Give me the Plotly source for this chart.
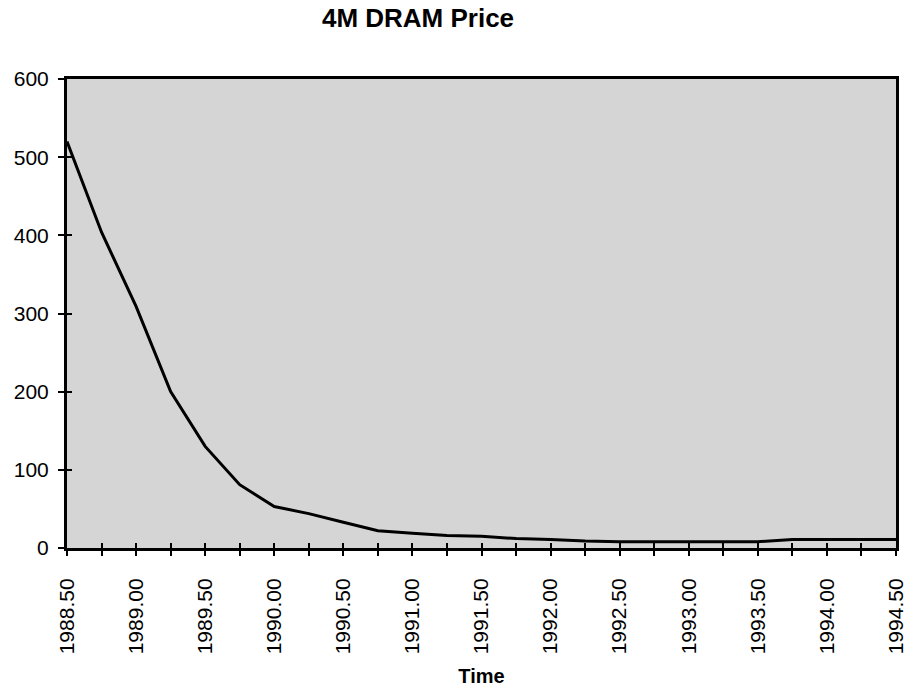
import plotly.graph_objects as go

# Quarterly time points and 4M DRAM price
time = [1988.50, 1988.75, 1989.00, 1989.25, 1989.50, 1989.75, 1990.00, 1990.25,
        1990.50, 1990.75, 1991.00, 1991.25, 1991.50, 1991.75, 1992.00, 1992.25,
        1992.50, 1992.75, 1993.00, 1993.25, 1993.50, 1993.75, 1994.00, 1994.25,
        1994.50]
price = [520, 404, 309, 200, 130, 81, 53, 44,
         33, 22, 19, 16, 15, 12, 11, 9,
         8, 8, 8, 8, 8, 11, 11, 11,
         11]

x_ticks = [1988.5 + 0.5 * i for i in range(13)]
x_tick_text = [f"{v:.2f}" for v in x_ticks]
y_ticks = [0, 100, 200, 300, 400, 500, 600]

FONT = "Liberation Sans, Arial, sans-serif"

fig = go.Figure()
fig.add_trace(go.Scatter(x=time, y=price, mode="lines",
                         line=dict(color="black", width=3),
                         showlegend=False, hoverinfo="skip"))
# invisible trace on the overlay axis so its ticks render
fig.add_trace(go.Scatter(x=[time[0], time[-1]], y=[0, 0], mode="lines",
                         line=dict(width=0), xaxis="x2", yaxis="y2",
                         showlegend=False, hoverinfo="skip"))

fig.update_layout(
    width=907, height=689,
    margin=dict(l=67, r=11, t=79, b=141),
    paper_bgcolor="white",
    plot_bgcolor="#d5d5d5",
    title=dict(text="<b>4M DRAM Price</b>", x=418 / 907, xanchor="center",
               y=1 - 18 / 689, yanchor="middle",
               font=dict(family=FONT, size=26, color="black")),
    xaxis=dict(range=[1988.5, 1994.5], tickmode="array", tickvals=x_ticks,
               ticktext=x_tick_text, tickangle=-90, ticks="outside", ticklen=5,
               tickwidth=2, tickcolor="black", automargin=False,
               ticklabelstandoff=14,
               minor=dict(dtick=0.25, tick0=1988.5, ticks="outside", ticklen=5,
                          tickwidth=2, tickcolor="black", showgrid=False),
               showline=True, linecolor="black", linewidth=3, mirror=True,
               showgrid=False, zeroline=False,
               tickfont=dict(family=FONT, size=21, color="black"),
               title=dict(text="<b>Time</b>", standoff=16,
                          font=dict(family=FONT, size=20, color="black"))),
    yaxis=dict(range=[0, 600], tickmode="array", tickvals=y_ticks,
               ticks="outside", ticklen=6, tickwidth=2, tickcolor="black",
               showline=True, linecolor="black", linewidth=3, mirror=True,
               showgrid=False, zeroline=False, ticklabelstandoff=5,
               automargin=False,
               tickfont=dict(family=FONT, size=21, color="black")),
    xaxis2=dict(overlaying="x", matches="x", range=[1988.5, 1994.5],
                tickmode="linear", tick0=1988.5, dtick=0.25, ticks="inside",
                ticklen=5, tickwidth=2, tickcolor="black", showticklabels=False,
                showgrid=False, zeroline=False, showline=False, side="bottom"),
    yaxis2=dict(overlaying="y", matches="y", range=[0, 600], tickmode="array",
                tickvals=y_ticks, ticks="inside", ticklen=5, tickwidth=2,
                tickcolor="black", showticklabels=False, showgrid=False,
                zeroline=False, showline=False, side="left"),
)

fig.write_html("out.html")
